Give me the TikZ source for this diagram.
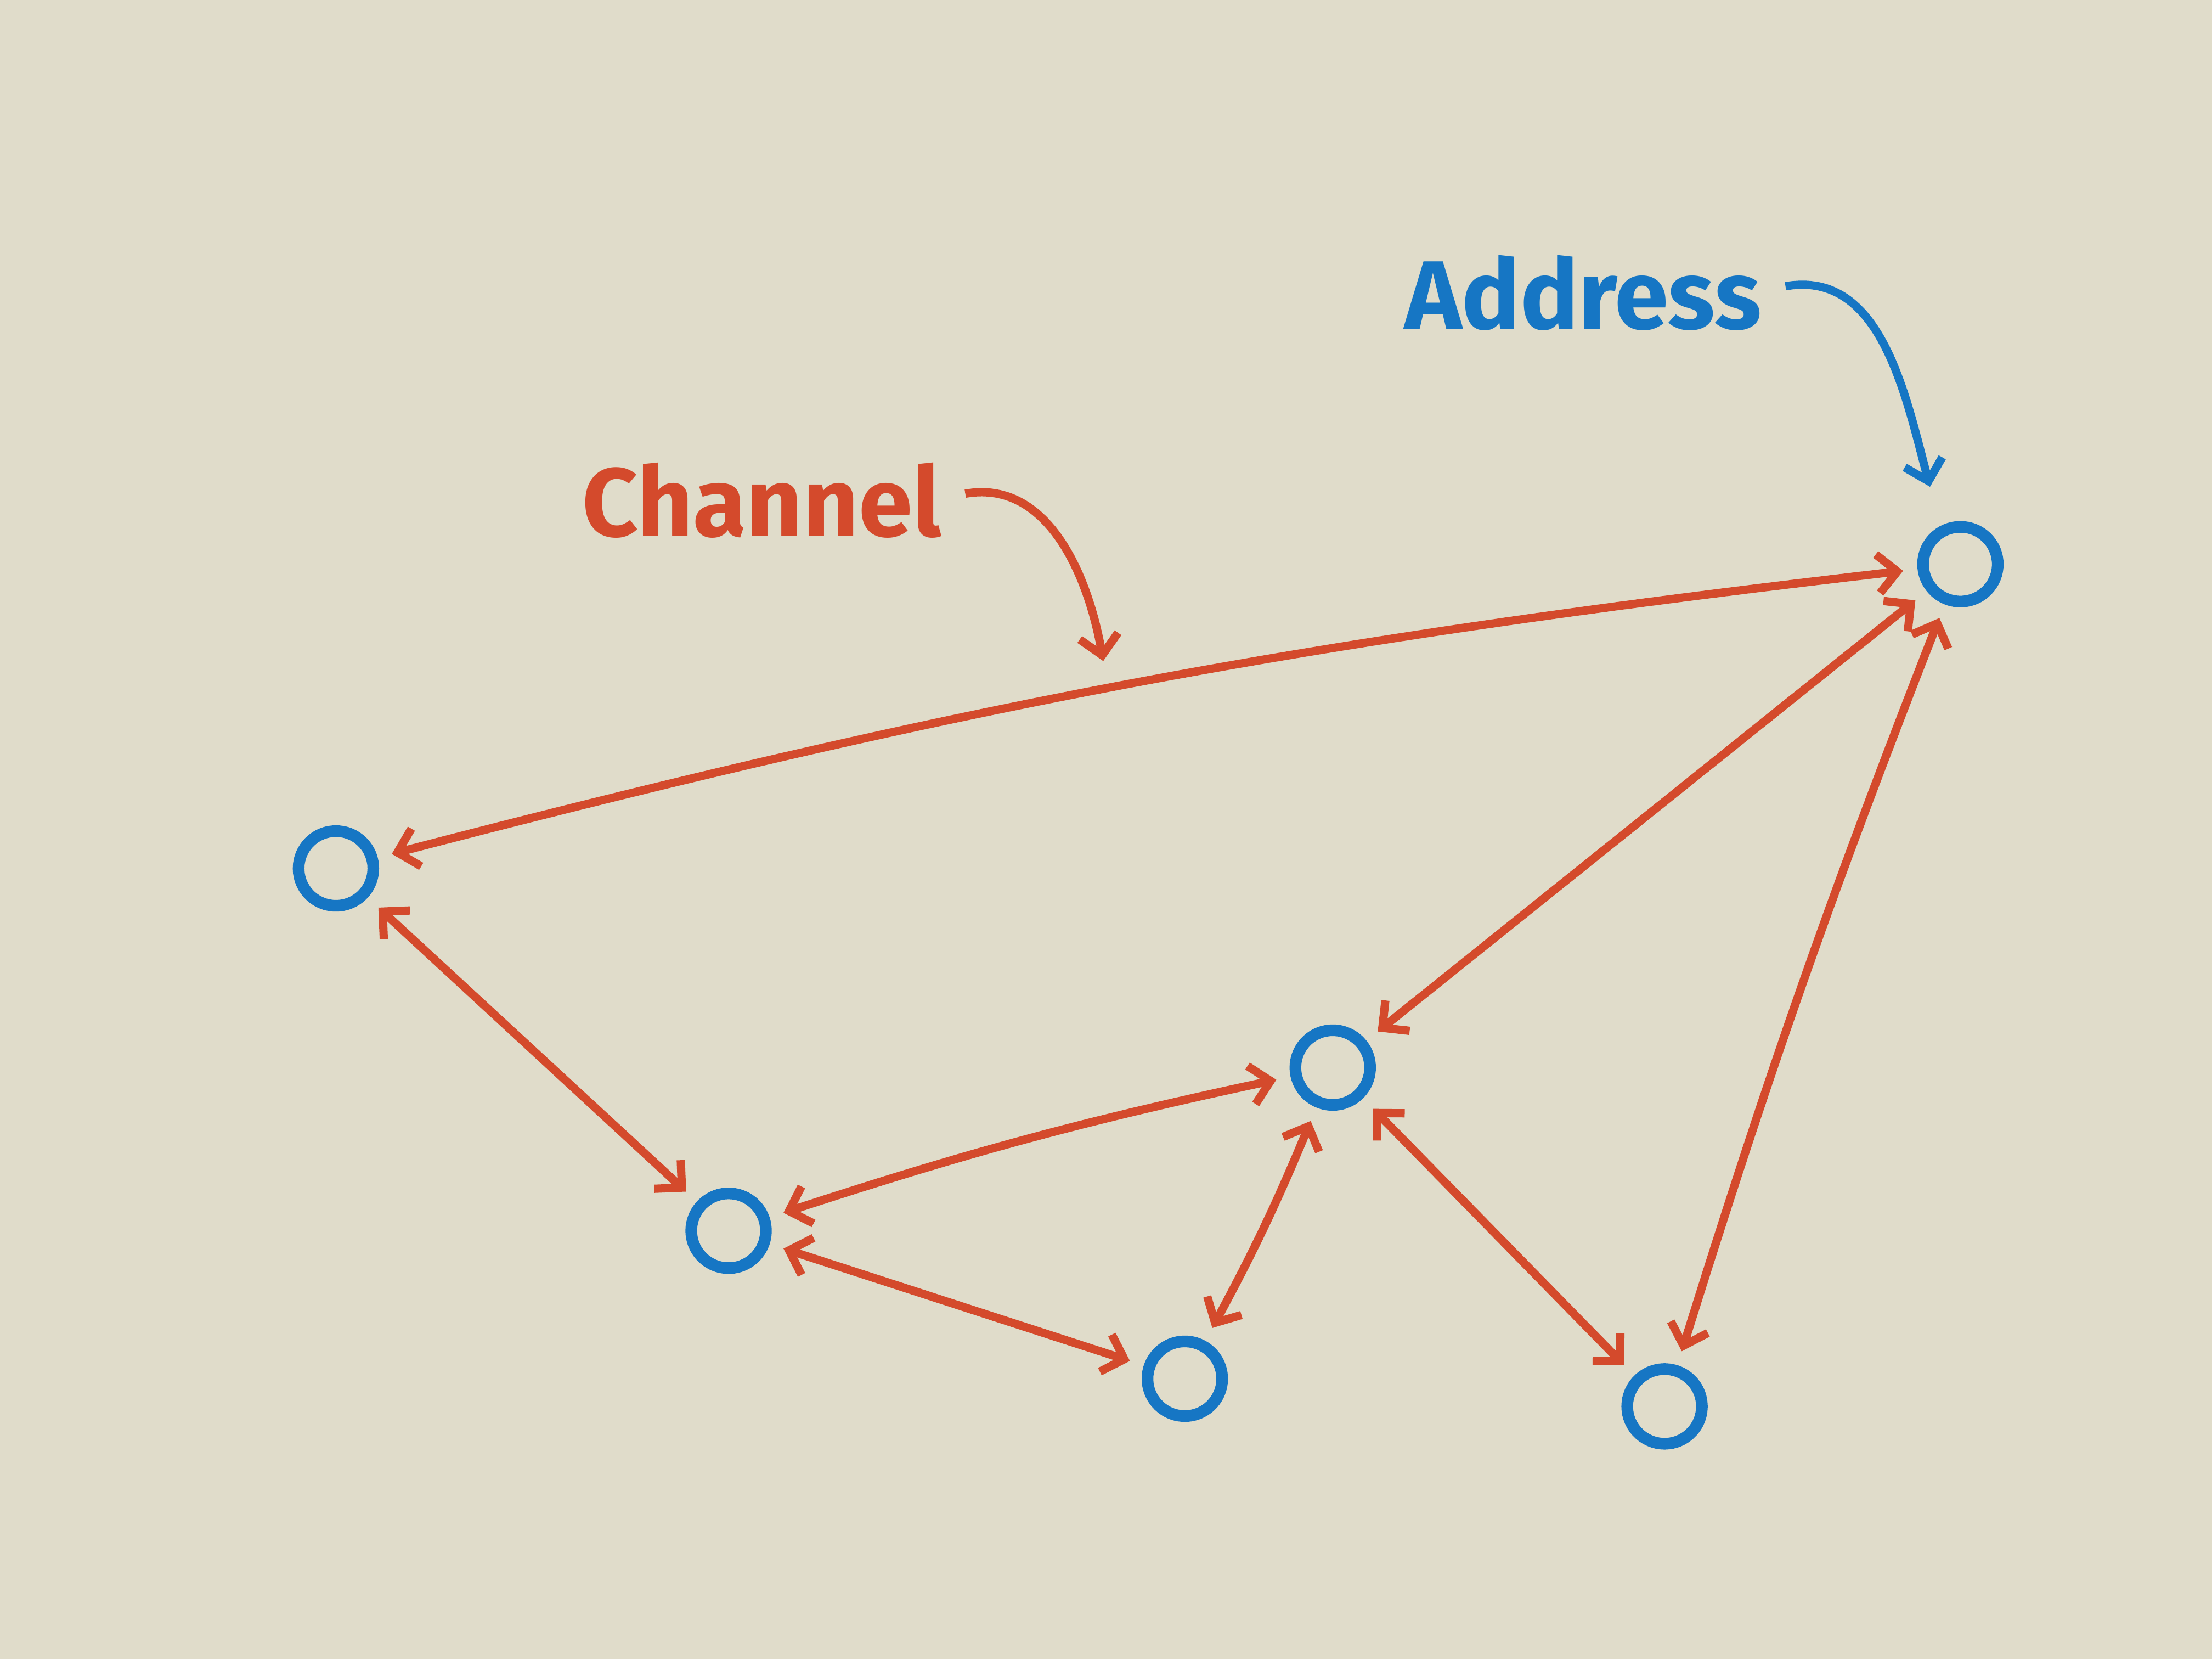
\documentclass[tikz,border=0pt]{standalone}
\usepackage{fontspec}
\setsansfont{Fira Sans}
\usetikzlibrary{arrows.meta}
\definecolor{board}{RGB}{224,220,202}
\definecolor{marker}{RGB}{212,74,44}
\definecolor{ink}{RGB}{22,118,196}
\begin{document}
\begin{tikzpicture}[
  peer/.style={circle, draw=ink, line width=2.4pt, minimum width=0.48cm,
               minimum height=0.54cm, inner sep=0pt},
  chan/.style={<->, >={Straight Barb[length=4pt,width=8pt]}, draw=marker,
               line width=1.7pt, shorten <=3pt, shorten >=3pt},
  note/.style={->, >={Straight Barb[length=4pt,width=8pt]}, line width=1.7pt},
  lbl/.style={font=\fontsize{20}{24}\selectfont\sffamily\bfseries}
]
  \useasboundingbox[fill=board] (0,0) rectangle (16,12);

  % Peers
  \node[peer] (pa) at (14.18, 7.92) {};
  \node[peer] (pb) at (2.43, 5.72) {};
  \node[peer] (pc) at (5.27, 3.10) {};
  \node[peer] (pd) at (9.64, 4.28) {};
  \node[peer] (pe) at (8.57, 2.03) {};
  \node[peer] (pf) at (12.04, 1.83) {};

  % Channels
  \draw[chan] (pa) to[bend right=4] (pb);
  \draw[chan] (pa) -- (pd);
  \draw[chan] (pa) to[bend right=2] (pf);
  \draw[chan] (pb) -- (pc);
  \draw[chan] (pc) to[bend left=3] (pd);
  \draw[chan] (pc) -- (pe);
  \draw[chan] (pd) to[bend left=3] (pe);
  \draw[chan] (pd) -- (pf);

  % Labels
  \node[lbl, text=marker] (chl) at (5.51, 8.38) {Channel};
  \node[lbl, text=ink] (adl) at (11.45, 9.88) {Address};

  \coordinate (chtip) at (7.98, 7.22);
  \coordinate (adtip) at (13.96, 8.48);
  \draw[note, marker] (chl.east) ++(0.05,0.05) to[out=10, in=100] (chtip);
  \draw[note, ink] (adl.east) ++(0.05,0.05) to[out=10, in=105] (adtip);
\end{tikzpicture}
\end{document}
